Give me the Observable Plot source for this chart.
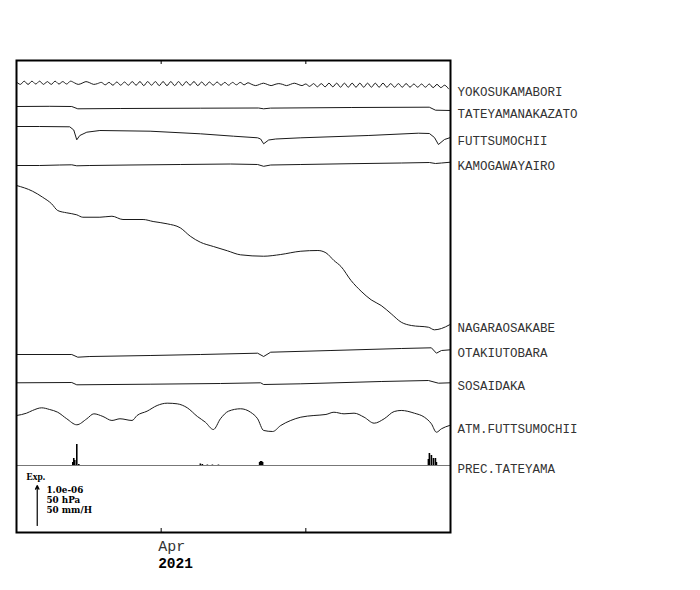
<!DOCTYPE html>
<html><head><meta charset="utf-8">
<script src="https://cdn.jsdelivr.net/npm/d3@7"></script>
<script src="https://cdn.jsdelivr.net/npm/@observablehq/plot@0.6"></script>
<style>body{margin:0;background:#fff}</style>
</head><body><div id="chart"></div>
<script>
// ---- data ----
// time axis: days since 2021-03-02 00:00 UTC
const tickDates = ["2021-04-01", "2021-05-01"];
const tickLabels = ["Apr", ""];
const yearLabel = "2021";
const scaleLabels = ["1.0e-06", "50 hPa", "50 mm/H"];
const scaleTitle = "Exp.";

// strain traces (×1e-6), pressure (hPa), precipitation (mm/H)
const yokosukaStep = 0.8; // days between samples
const yokosukaVals = [
  0.02,-0.04,0.04,-0.04,0.04,-0.03,0.04,-0.04,0.03,-0.04,0.04,-0.03,0.03,-0.03,
  0.04,0.0,-0.04,-0.01,0.03,0.0,-0.04,-0.02,
  0.01,-0.05,0.01,-0.06,0.02,-0.06,0.02,-0.06,0.03,-0.06,0.03,-0.07,0.03,-0.06,0.03,-0.07,0.03,-0.07,
  0.03,-0.07,0.03,-0.07,0.03,-0.06,0.03,-0.07,0.02,-0.07,0.02,-0.06,0.02,-0.06,0.01,-0.06,0.01,-0.05,0.01,-0.05,0.0,
  -0.04,-0.07,-0.04,-0.01,-0.04,-0.07,-0.04,-0.02,-0.04,-0.07,-0.04,-0.01,-0.04,-0.07,
  -0.03,-0.09,-0.02,-0.1,-0.02,-0.1,-0.01,-0.1,-0.01,-0.11,-0.01,-0.11,-0.01,-0.11,-0.01,-0.11,-0.01,-0.11,
  -0.01,-0.11,-0.01,-0.11,-0.02,-0.11,-0.02,-0.11,-0.02,-0.11,-0.03,-0.11,-0.03,-0.11,-0.03,-0.12,-0.04,-0.12,
  -0.06,-0.15
];

const tateyamaDays = [0, 6.9, 11.46, 12.71, 21.5, 38.1, 50.2, 51.25, 52.7, 69.4, 85.6, 86.9, 90];
const tateyamaVals = [0, 0.005, 0, -0.0575, -0.05, -0.0425, -0.0375, -0.0575, -0.04, -0.025, -0.0175, -0.0925, -0.1];

const futtsuDays = [0, 4.79, 11.04, 11.875, 12.5, 13.125, 14.58, 17.29, 27.71, 38.125, 45, 50, 50.625, 51.25, 52.29, 53.75, 58.96, 72.92, 83.33, 85.625, 86.67, 87.5, 88.75, 90];
const futtsuVals = [0, 0, -0.0075, -0.0875, -0.3325, -0.225, -0.1425, -0.1, -0.1175, -0.1825, -0.2425, -0.2825, -0.3125, -0.4325, -0.3375, -0.3125, -0.2825, -0.225, -0.1675, -0.175, -0.275, -0.45, -0.325, -0.275];

const kamogawaDays = [0, 4.79, 8.96, 11.46, 12.5, 15.21, 23.54, 33.96, 44.375, 50, 51.25, 52.71, 58.96, 69.375, 79.79, 85.625, 86.875, 88.125, 90];
const kamogawaVals = [0, 0, 0.0125, 0.0175, -0.0075, 0, 0.0125, 0.025, 0.0375, 0.025, -0.02, 0.0125, 0.025, 0.045, 0.0625, 0.075, 0.05, 0.0625, 0.0825];

const nagaraDays = [0, 3.33, 5.42, 7.29, 8.54, 10.42, 12.5, 13.75, 17.29, 19.79, 22.08, 26.25, 28.33, 31.25, 33.96, 36.04, 38.125, 40.83, 43.75, 46.46, 51.25, 54.79, 58.96, 62.5, 64.17, 65.83, 67.29, 69.375, 71.46, 73.54, 75.625, 77.71, 79.79, 81.875, 85.42, 86.67, 88.125, 89.79];
const nagaraVals = [0, -0.143, -0.293, -0.458, -0.625, -0.683, -0.733, -0.793, -0.793, -0.768, -0.85, -0.85, -0.9, -0.958, -1.058, -1.268, -1.418, -1.525, -1.633, -1.733, -1.768, -1.725, -1.643, -1.625, -1.683, -1.875, -2.025, -2.375, -2.643, -2.858, -3.0, -3.208, -3.418, -3.5, -3.543, -3.608, -3.575, -3.483];

const otakiDays = [0, 11.46, 12.71, 15.21, 27.71, 38.125, 50, 51.25, 52.71, 65.21, 79.79, 86.04, 87.08, 88.125, 90];
const otakiVals = [0, 0, -0.0675, -0.05, -0.025, 0, 0.0325, -0.05, 0.0575, 0.1, 0.15, 0.1675, 0.0325, 0.1, 0.1175];

const sosaiDays = [0, 11.46, 12.5, 27.71, 42.29, 50.625, 51.25, 58.96, 75.625, 85.42, 87.5, 90];
const sosaiVals = [0, 0.0075, -0.05, -0.035, -0.0175, 0, -0.0425, -0.025, 0.0325, 0.0575, -0.01, 0];

const atmDays = [0, 2.08, 3.33, 5.21, 6.875, 8.54, 10.42, 12.5, 14.58, 16.04, 17.92, 19.79, 21.46, 23.96, 25, 27.08, 29.17, 31.25, 33.33, 35.42, 37.5, 39.17, 40.83, 42.29, 43.96, 46.46, 48.54, 50, 51.25, 53.125, 54.79, 56.875, 58.96, 61.67, 64.17, 65.83, 67.92, 70, 72.08, 74.17, 76.25, 78.33, 79.79, 82.5, 84.58, 86.04, 87.08, 88.125, 89.79];
const atmVals = [1013, 1015.9, 1019.3, 1022.6, 1020.5, 1017.1, 1008.9, 1001.4, 1008.9, 1015.1, 1011.8, 1006.8, 1008.9, 1006.8, 1013, 1018.4, 1025.5, 1028.4, 1027.6, 1022.6, 1011.8, 1004.6, 995.5, 1008.9, 1018.4, 1021.4, 1017.1, 1008.9, 994.3, 993, 1000.5, 1006.8, 1010.9, 1013, 1014.3, 1017.1, 1015.1, 1015.9, 1010.9, 1003.4, 1008.9, 1018, 1019.3, 1015.9, 1010.9, 1002.6, 992.1, 996.4, 1000.5];

const precDays = [11.67, 11.875, 12.08, 12.5, 12.92, 38.125, 38.54, 39.58, 40.625, 41.875, 50.42, 50.625, 50.83, 51.04, 85.42, 85.625, 86.04, 86.46, 86.875, 87.08];
const precVals = [3.75, 8.75, 6.25, 26.25, 1.25, 1.9, 1.25, 0.6, 0.6, 0.6, 3.75, 5, 5, 3.75, 7.5, 15, 12.5, 8.75, 8.75, 3.75];

// ---- layout (vertical stacking, in scale-bar units: 1 unit = 1e-6 = 50 hPa = 50 mm/H) ----
const startMs = Date.UTC(2021, 2, 2);
const endMs = Date.UTC(2021, 4, 31);
const DAY = 864e5;
const toDate = d => new Date(startMs + d * DAY);
const H = 11.8;

function series(name, days, vals, offset, ref, per) {
  return days.map((d, i) => ({name, date: toDate(d), u: offset + (vals[i] - ref) / per}));
}
const yokosukaDays = yokosukaVals.map((_, i) => i * yokosukaStep);

const yoko = series("YOKOSUKAMABORI", yokosukaDays, yokosukaVals, 11.2425, 0, 1);
const straight = [
  series("TATEYAMANAKAZATO", tateyamaDays, tateyamaVals, 10.65, 0, 1),
  series("FUTTSUMOCHII", futtsuDays, futtsuVals, 10.15, 0, 1),
  series("KAMOGAWAYAIRO", kamogawaDays, kamogawaVals, 9.175, 0, 1),
  series("OTAKIUTOBARA", otakiDays, otakiVals, 4.45, 0, 1),
  series("SOSAIDAKA", sosaiDays, sosaiVals, 3.7425, 0, 1)
];
const nagara = series("NAGARAOSAKABE", nagaraDays, nagaraVals, 8.675, 0, 1);
const atm = series("ATM.FUTTSUMOCHII", atmDays, atmVals, 2.925, 1013, 50);
const precBase = 1.675;
const prec = precDays.map((d, i) => ({date: toDate(d), y1: precBase, y2: precBase + precVals[i] / 50}));

const labels = [yoko, ...straight, nagara, atm].map(s => ({name: s[0].name, u: s[s.length - 1].u}));
labels.push({name: "PREC.TATEYAMA", u: precBase});

const ticks = tickDates.map((t, i) => ({date: new Date(t + "T00:00Z"), label: tickLabels[i]}));
const legendDate = toDate(4.3);

const mono = "'Liberation Mono', 'Courier New', monospace";
const serif = "'Liberation Serif', 'Times New Roman', serif";
const wideSerif = "'DejaVu Serif', serif";
const scaleDy = [-39.7, -29.7, -19.7];

const chart = Plot.plot({
  width: 700, height: 590,
  marginLeft: 16, marginRight: 250, marginTop: 60, marginBottom: 58,
  x: {type: "utc", domain: [new Date(startMs), new Date(endMs)], axis: null},
  y: {domain: [0, H], axis: null},
  style: {background: "#fff", color: "#000"},
  marks: [
    Plot.ruleY([precBase], {stroke: "#777", strokeWidth: 1}),
    Plot.ruleX(prec, {x: "date", y1: "y1", y2: "y2", stroke: "#000", strokeWidth: 1.6, strokeLinecap: "butt"}),
    Plot.line(yoko, {x: "date", y: "u", curve: "catmull-rom", stroke: "#1a1a1a", strokeWidth: 1}),
    ...straight.map(s => Plot.line(s, {x: "date", y: "u", stroke: "#1a1a1a", strokeWidth: 1})),
    Plot.line(nagara, {x: "date", y: "u", curve: "monotone-x", stroke: "#1a1a1a", strokeWidth: 1}),
    Plot.line(atm, {x: "date", y: "u", curve: "monotone-x", stroke: "#1a1a1a", strokeWidth: 1}),
    Plot.text(labels, {x: () => new Date(endMs), y: "u", text: "name", dx: 7, dy: 3.5, textAnchor: "start", fontFamily: mono, fontSize: 12.5, fill: "#333"}),
    Plot.ruleX(ticks, {x: "date", y1: 0, y2: 0.1, stroke: "#000", strokeWidth: 1}),
    Plot.ruleX(ticks, {x: "date", y1: H - 0.1, y2: H, stroke: "#000", strokeWidth: 1}),
    Plot.text(ticks, {x: "date", text: "label", frameAnchor: "bottom", lineAnchor: "bottom", textAnchor: "start", dx: -3, dy: 18, fontFamily: mono, fontSize: 15, fill: "#333"}),
    Plot.text([yearLabel], {x: () => ticks[0].date, text: d => d, frameAnchor: "bottom", lineAnchor: "bottom", textAnchor: "start", dx: -3, dy: 35, fontFamily: mono, fontSize: 14.5, fontWeight: "bold", fill: "#000"}),
    Plot.arrow([0], {x1: () => legendDate, x2: () => legendDate, y1: () => 0.175, y2: () => 1.175, stroke: "#000", strokeWidth: 1.2, headLength: 5, headAngle: 50}),
    Plot.text([scaleTitle], {text: d => d, frameAnchor: "bottom-left", lineAnchor: "bottom", textAnchor: "start", dx: 10, dy: -53, fontFamily: serif, fontSize: 9.5, fontWeight: "bold"}),
    ...scaleLabels.map((s, i) => Plot.text([s], {text: d => d, frameAnchor: "bottom-left", lineAnchor: "bottom", textAnchor: "start", dx: 30, dy: scaleDy[i], fontFamily: wideSerif, fontSize: 8.8, fontWeight: "bold"})),
    Plot.frame({stroke: "#000", strokeWidth: 2})
  ]
});
document.getElementById("chart").append(chart);
</script>
</body></html>
